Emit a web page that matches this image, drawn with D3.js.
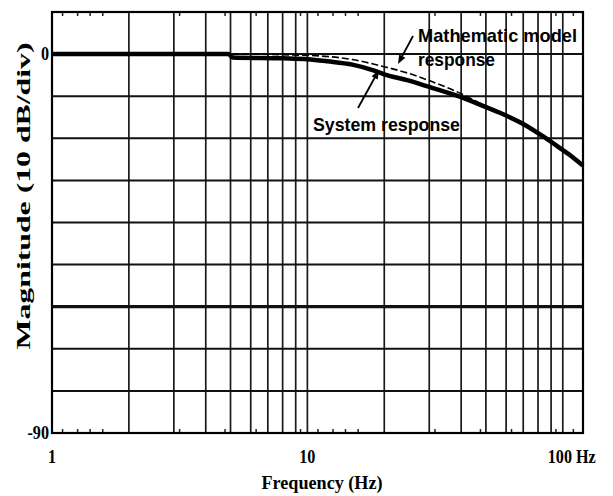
<!DOCTYPE html>
<html><head><meta charset="utf-8">
<script src="https://cdn.jsdelivr.net/npm/d3@7"></script>
<style>body{margin:0;background:#fff}svg{display:block}</style>
</head><body><svg id="c" width="613" height="496"></svg>
<script>
// ---- data ----
const sysFreq = [1, 4.9, 5.1, 8, 10, 12, 15, 18, 20, 25, 30, 39, 50, 60, 70, 83.5, 100, 110, 120];
const sysDb   = [0, 0, -0.8, -1.0, -1.2, -1.7, -2.5, -3.8, -4.8, -6.3, -7.8, -10, -12.6, -14.6, -16.6, -19.5, -22.8, -24.6, -26.5];
const modFreq = [1, 5, 10, 15, 20, 25, 30, 40, 50, 60, 70, 83.5, 100, 120];
const modDb   = [0, 0, -0.3, -1.3, -3.0, -4.6, -6.3, -9.4, -12.4, -14.6, -16.6, -19.5, -22.8, -26.5];
const xGrid = [2, 3, 4, 5, 6, 7, 8, 9, 10, 20, 30, 40, 50, 60, 70, 80, 90, 100];
const yGrid = [-80, -70, -60, -50, -40, -30, -20, -10, 0];
const minorTicks = [1.1, 1.26, 1.41, 1.58, 3.16, 4.76, 6.3, 9.4, 11, 12.6, 14.1, 15.8, 31.6, 47.6, 63, 94, 110];
const xTickLabels = [{v: 1, t: "1"}, {v: 10, t: "10"}, {v: 100, t: "100 Hz"}];
const yTickLabels = [{v: 0, t: "0"}, {v: -90, t: "-90"}];
const xTitle = "Frequency (Hz)";
const yTitle = "Magnitude (10 dB/div)";
const annModel = ["Mathematic model", "response"];
const annSystem = "System response";

// ---- layout ----
const L = 52, R = 583, T = 12, B = 433;
const svg = d3.select("#c");
const x = d3.scaleLog().domain([1, 120]).range([L, R]);
const y = d3.scaleLinear().domain([-90, 10]).range([B, T]);

const serif = "'Liberation Serif', 'DejaVu Serif', serif";
const sans = "'Liberation Sans', Arial, sans-serif";

// grid
svg.append("g").selectAll("line").data(xGrid).join("line")
  .attr("x1", d => x(d)).attr("x2", d => x(d)).attr("y1", T).attr("y2", B)
  .attr("stroke", "#1a1a1a").attr("stroke-width", 1.7);
svg.append("g").selectAll("line").data(yGrid).join("line")
  .attr("x1", L).attr("x2", R).attr("y1", d => y(d)).attr("y2", d => y(d))
  .attr("stroke", "#111").attr("stroke-width", d => d === -60 ? 3.2 : 2);

// minor ticks top & bottom
const mt = svg.append("g").attr("stroke", "#222").attr("stroke-width", 1.5);
mt.selectAll(".b").data(minorTicks).join("line").attr("class", "b")
  .attr("x1", d => x(d)).attr("x2", d => x(d)).attr("y1", B).attr("y2", B - 4);
mt.selectAll(".t").data(minorTicks).join("line").attr("class", "t")
  .attr("x1", d => x(d)).attr("x2", d => x(d)).attr("y1", T).attr("y2", T + 4);

// frame
svg.append("rect").attr("x", L).attr("y", T).attr("width", R - L).attr("height", B - T)
  .attr("fill", "none").attr("stroke", "#000").attr("stroke-width", 2.2);

// curves
const line = d3.line().x(d => x(d[0])).y(d => y(d[1])).curve(d3.curveMonotoneX);
svg.append("path").datum(sysFreq.map((f, i) => [f, sysDb[i]]))
  .attr("d", line).attr("fill", "none").attr("stroke", "#000").attr("stroke-width", 4.5)
  .attr("stroke-linejoin", "round");
svg.append("path").datum(modFreq.map((f, i) => [f, modDb[i]]))
  .attr("d", line).attr("fill", "none").attr("stroke", "#000").attr("stroke-width", 1.6)
  .attr("stroke-dasharray", "7,3");

// tick labels
svg.append("g").selectAll("text").data(xTickLabels).join("text")
  .attr("y", 463)
  .attr("text-anchor", d => d.v === 100 ? "start" : "middle")
  .attr("font-family", serif).attr("font-weight", "bold").attr("font-size", 19)
  .attr("transform", "scale(0.85,1)")
  .attr("x", d => (d.v === 100 ? x(d.v) - 15 : x(d.v)) / 0.85)
  .text(d => d.t);
svg.append("g").selectAll("text").data(yTickLabels).join("text")
  .attr("x", 49 / 0.85).attr("y", d => y(d.v) + 6)
  .attr("transform", "scale(0.85,1)")
  .attr("text-anchor", "end")
  .attr("font-family", serif).attr("font-weight", "bold").attr("font-size", 19)
  .text(d => d.t);

// axis titles
svg.append("text").attr("x", 322).attr("y", 489).attr("text-anchor", "middle")
  .attr("font-family", serif).attr("font-weight", "bold").attr("font-size", 19)
  .attr("textLength", 121).attr("lengthAdjust", "spacingAndGlyphs").text(xTitle);
svg.append("text").attr("transform", "translate(30,196) rotate(-90)").attr("text-anchor", "middle")
  .attr("font-family", serif).attr("font-weight", "bold").attr("font-size", 19)
  .attr("textLength", 307).attr("lengthAdjust", "spacingAndGlyphs").text(yTitle);

// annotations
const ann = svg.append("g").attr("font-family", sans).attr("font-weight", "bold").attr("font-size", 19);
ann.append("text").attr("x", 418).attr("y", 42).attr("textLength", 159).attr("lengthAdjust", "spacingAndGlyphs").text(annModel[0]);
ann.append("text").attr("x", 418).attr("y", 66).attr("textLength", 77).attr("lengthAdjust", "spacingAndGlyphs").text(annModel[1]);
ann.append("text").attr("x", 313).attr("y", 131).attr("textLength", 147).attr("lengthAdjust", "spacingAndGlyphs").text(annSystem);

function arrow(x1, y1, x2, y2) {
  const a = Math.atan2(y2 - y1, x2 - x1), hl = 9, hw = 3.5;
  svg.append("line").attr("x1", x1).attr("y1", y1)
    .attr("x2", x2 - Math.cos(a) * hl * 0.8).attr("y2", y2 - Math.sin(a) * hl * 0.8)
    .attr("stroke", "#000").attr("stroke-width", 1.8);
  const bx = x2 - Math.cos(a) * hl, by = y2 - Math.sin(a) * hl;
  const px = -Math.sin(a) * hw, py = Math.cos(a) * hw;
  svg.append("path").attr("d", `M${x2},${y2}L${bx + px},${by + py}L${bx - px},${by - py}Z`).attr("fill", "#000");
}
arrow(413, 36, 398, 64);
arrow(358, 108, 379, 70);
</script></body></html>
